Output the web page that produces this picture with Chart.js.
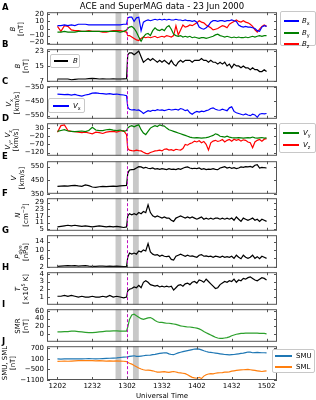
<!DOCTYPE html>
<html>
<head>
<meta charset="utf-8">
<script src="https://cdn.jsdelivr.net/npm/chart.js@4.4.0/dist/chart.umd.min.js"></script>
<style>
  html, body { margin: 0; padding: 0; background: #fff; }
  #wrap { position: relative; width: 316px; height: 400px; overflow: hidden; font-family: "DejaVu Sans", sans-serif; color: #000; }
  canvas { position: absolute; left: 0; }
  .title { position: absolute; left: 47px; width: 230px; top: 1px; text-align: center; font-size: 8.5px; line-height: 10px; white-space: nowrap; }
  .lbl { position: absolute; width: 60px; height: 16px; text-align: center; font-size: 7px; line-height: 8px; transform: rotate(-90deg); white-space: nowrap; }
  .let { position: absolute; left: 2px; font-weight: bold; font-size: 8.5px; line-height: 9px; }
  .leg { position: absolute; border: 1px solid #c8c8c8; border-radius: 2px; background: #fff; font-size: 7px; box-sizing: border-box; }
  .row { position: absolute; left: 0; height: 8px; line-height: 8px; white-space: nowrap; }
  .row .s { position: absolute; top: 3px; height: 1.5px; }
  .row .t { position: absolute; top: 0; }
  sub { font-size: 70%; vertical-align: -1.5px; line-height: 0; }
  sup { font-size: 70%; vertical-align: 3px; line-height: 0; }
</style>
</head>
<body>
<div id="wrap"></div>
<script>
// minutes after 12:00 UT
const times = [2, 5, 8, 11, 14, 17, 20, 23, 26, 29, 32, 35, 38, 41, 44, 47, 50, 53, 56, 59,
  61.5, 62.5,
  64, 66, 68, 70, 72, 74, 76, 78, 80, 82,
  84, 86, 88, 90, 92, 94, 96, 98, 100, 102,
  104, 106, 108, 110, 112, 114, 116, 118, 120, 122,
  124, 126, 128, 130, 132, 134, 136, 138, 140, 142,
  144, 146, 148, 150, 152, 154, 156, 158, 160, 162,
  164, 166, 168, 170, 172, 174, 176, 178, 180, 182];

const bx = [4, 4, 5, 4, 5, 4, 6, 6, 6, 5, 5, 5, 5, 5, 5, 5, 5, 5, 5, 6,
  6, 15,
  16, 16, 10, 15, 16, -3, 9, 11, 12, 11,
  12, 13, 12, 13, 12, 13, 12, 13, 12, 12,
  13, 12, 12, 11, 12, 11, 11, 10, 11, 9,
  2, 0, -1, 1, 4, 9, 11, 11, 10, 11,
  11, 10, 11, 11, 12, 11, 10, 5, 3, 2,
  3, 2, 2, 1, 0, -3, -4, 2, 4, 3];
const by = [-5, -5, -4, -5, -5, -5, -4, -4, -4, -4, -4, -4, -4, -4, -4, -4, -4, -4, -5, -4,
  -2, 0,
  2, 3, 0, -5, -12, -18, -12, -8, -7, -10,
  -3, 1, -2, -3, -1, -3, 2, 4, -1, -8,
  -10, -11, -10, -12, -11, -12, -11, -13, -12, -13,
  -14, -13, -13, -14, -13, -12, -11, -9, -8, -10,
  -11, -12, -11, -12, -13, -12, -13, -12, -13, -13,
  -12, -13, -12, -11, -12, -11, -10, -11, -10, -10];
const bz = [3, -4, 4, 3, -2, -3, -3, -4, -4, -3, -4, -4, -4, -5, -5, -4, -3, -3, -3, -4,
  -5, -10,
  -10, -12, -14, -16, -17, -14, -12, -13, -12, -13,
  -12, -11, -13, -12, -11, -12, -10, -11, -12, -10,
  4, -9, -2, 5, 2, 3, 5, 4, 6, 8,
  11, 9, 8, 5, 3, 1, -2, -1, 0, 2,
  4, 3, 1, 6, 8, 10, 12, 10, 9, 11,
  9, 8, 6, 3, -2, -5, -1, 3, 5, 3];
const bmag = [8, 8, 8, 8, 7.6, 7.8, 8, 8, 8, 8.2, 8.3, 8.2, 8, 8.1, 8, 8, 8.1, 8, 8, 8.1,
  8.2, 21,
  22, 22, 21, 22, 23, 20, 17, 18, 19, 18,
  19, 18, 17, 18, 17, 18, 17, 16, 18, 16,
  15, 17, 18, 17, 18, 18, 18, 17, 18, 18,
  18, 19, 18, 18, 17, 18, 17, 17, 16, 17,
  16, 17, 15, 16, 14, 16, 15, 15, 14, 15,
  14, 14, 13, 14, 13, 13, 12, 12, 13, 12];
const vx = [-398, -400, -402, -400, -405, -400, -408, -412, -405, -400, -392, -390, -393, -395, -398, -395, -400, -398, -402, -405,
  -410, -490,
  -505, -510, -508, -512, -510, -520, -535, -525, -515, -520,
  -512, -515, -508, -512, -510, -515, -510, -505, -510, -508,
  -505, -510, -500, -505, -515, -510, -530, -540, -528, -520,
  -525, -518, -522, -515, -510, -500, -495, -505, -510, -512,
  -505, -510, -515, -495, -488, -520, -530, -535, -540, -545,
  -538, -545, -550, -540, -545, -562, -540, -535, -538, -535];
const vy = [10, 15, 20, 12, 10, 8, 10, 12, 8, 15, 35, 18, 14, 15, 20, 22, 18, 15, 18, 10,
  15, 30,
  40, 45, 38, 45, 50, 20, 0, -10, 10, 30,
  38, 45, 40, 50, 45, 42, 30, 20, 15, 10,
  5, 0, -5, -10, -15, -20, -25, -28, -30, -28,
  -30, -32, -30, -28, -25, -20, -15, -5, -10, -20,
  -22, -25, -20, -25, -28, -30, -30, -28, -30, -32,
  -30, -28, -30, -25, -30, -32, -30, -28, -32, -30];
const vz = [5, 45, 50, 15, 10, 8, 5, 2, 5, 0, -5, 5, 2, -3, 5, 8, 10, 5, 12, 15,
  -10, -95,
  -105, -108, -110, -105, -108, -110, -118, -125, -128, -120,
  -115, -110, -108, -105, -110, -100, -98, -105, -102, -108,
  -100, -103, -105, -95, -70, -75, -65, -60, -50, -55,
  -48, -60, -52, -70, -105, -60, -50, -45, -52, -48,
  -40, -55, -45, -40, -50, -38, -45, -40, -50, -42,
  -45, -55, -60, -90, -55, -45, -40, -50, -38, -35];
const vmag = [405, 407, 408, 406, 410, 412, 408, 405, 415, 410, 400, 398, 402, 405, 403, 405, 407, 405, 408, 410,
  412, 500,
  525, 528, 530, 540, 550, 548, 540, 545, 538, 535,
  540, 532, 535, 530, 535, 532, 528, 535, 530, 532,
  528, 535, 530, 538, 545, 548, 540, 535, 538, 535,
  540, 530, 535, 528, 532, 530, 535, 530, 528, 540,
  545, 550, 540, 545, 538, 542, 535, 540, 548, 545,
  550, 548, 552, 545, 560, 565, 540, 545, 542, 540];
const dens = [7, 7.5, 8, 8.5, 8, 8.5, 8, 7.5, 8, 7.5, 7, 7.5, 8, 7.5, 7, 7.5, 7, 7.5, 7, 6.5,
  7, 17,
  19, 18, 19, 18, 20, 19, 21, 20, 27, 20,
  17, 16, 17, 16, 15, 16, 15, 15, 13, 12,
  15, 16, 17, 16, 15, 16, 15, 16, 15, 14,
  15, 16, 14, 15, 14, 15, 14, 15, 15, 14,
  15, 14, 15, 14, 15, 13, 16, 14, 12, 15,
  14, 13, 14, 15, 13, 14, 12, 14, 13, 12];
const pdyn = [2.2, 2.3, 2.4, 2.5, 2.4, 2.5, 2.3, 2.4, 2.5, 2.3, 2.2, 2.2, 2.3, 2.3, 2.2, 2.3, 2.2, 2.3, 2.2, 2.1,
  2.2, 6.5,
  8.5, 8, 8.5, 8, 9.5, 9, 10, 9.5, 13, 9,
  8, 7.5, 7.8, 7, 7.5, 7, 6.8, 7, 5.5, 5.2,
  7, 7.5, 8, 7.5, 7, 7.5, 7, 7.2, 6.8, 6.5,
  7.5, 7.8, 7, 7.2, 6.8, 7, 6.5, 7, 6.8, 6.5,
  7, 6.5, 6.8, 6.5, 7, 6, 7.5, 6.5, 5.8, 7.5,
  6.5, 6, 6.5, 7.5, 6, 6.8, 5.8, 7, 6.5, 6];
const temp = [1.1, 1.1, 1.2, 1.1, 1.2, 1.1, 1.0, 1.1, 1.0, 1.0, 1.1, 1.0, 1.0, 1.1, 1.0, 1.2, 1.0, 1.1, 1.0, 0.9,
  1.0, 1.8,
  2.0, 2.1, 2.3, 2.2, 2.5, 2.2, 2.9, 3.1, 2.9, 2.6,
  2.5, 2.4, 2.5, 2.3, 2.4, 2.3, 2.4, 2.3, 2.4, 1.9,
  2.2, 2.5, 2.6, 2.4, 2.7, 2.8, 2.6, 2.9, 3.0, 2.8,
  3.2, 3.1, 2.9, 3.3, 3.0, 2.7, 2.4, 2.1, 2.2, 2.6,
  2.8, 3.0, 2.9, 3.1, 3.0, 3.3, 2.9, 3.2, 3.1, 3.4,
  3.3, 3.5, 3.6, 3.4, 3.2, 3.1, 3.3, 3.5, 3.4, 3.2];
const smr = [5, 5, 6, 6, 7, 7, 6, 5, 4, 3, 3, 4, 5, 6, 7, 7, 8, 8, 7, 7,
  7, 18,
  38, 50, 52, 48, 44, 40, 38, 40, 42, 43,
  40, 35, 32, 30, 30, 29, 28, 28, 27, 26,
  25, 23, 21, 20, 19, 18, 18, 17, 16, 15,
  13, 10, 6, 3, 0, -3, -6, -9, -11, -12,
  -12, -11, -10, -8, -5, -3, -1, 0, 1, 1,
  2, 2, 2, 2, 2, 2, 1, 1, 1, 0];
const smu = [90, 85, 90, 95, 90, 100, 95, 90, 100, 105, 100, 95, 100, 110, 120, 130, 140, 150, 170, 190,
  200, 210,
  230, 250, 270, 240, 230, 250, 270, 290, 300, 310,
  330, 350, 380, 400, 420, 440, 430, 380, 340, 330,
  380, 430, 470, 500, 530, 560, 590, 620, 650, 660,
  640, 600, 550, 510, 480, 460, 440, 420, 400, 380,
  360, 340, 330, 320, 330, 340, 360, 380, 400, 420,
  450, 480, 470, 440, 450, 460, 450, 440, 440, 430];
const sml = [-50, -40, -30, -40, -30, -20, -10, 0, -10, 0, -10, -20, -10, -20, -30, -20, -30, -20, -30, -40,
  -60, -100,
  -150, -200, -280, -350, -420, -480, -520, -550, -540, -560,
  -580, -620, -650, -660, -640, -630, -650, -670, -640, -620,
  -650, -680, -700, -720, -740, -800, -880, -950, -980, -1000,
  -950, -1020, -880, -800, -760, -740, -750, -720, -700, -690,
  -680, -660, -650, -640, -600, -580, -560, -540, -530, -520,
  -510, -500, -520, -540, -560, -580, -600, -620, -600, -580];

const xTicks = [2, 32, 62, 92, 122, 152, 182];
const xTickLabels = ['1202', '1232', '1302', '1332', '1402', '1432', '1502'];
const bandStarts = [52, 67];
const bandEnds = [57, 72];
const shockTime = 62;

const ticksA = [-20, -10, 0, 10, 20];
const ticksB = [7, 15, 23];
const ticksC = [-550, -450, -350];
const ticksD = [-120, -70, -20, 30];
const ticksE = [350, 450, 550];
const ticksF = [5, 11, 17, 23, 29];
const ticksG = [2, 6, 10, 14];
const ticksH = [1, 2, 3, 4];
const ticksI = [0, 20, 40, 60];
const ticksJ = [-1100, -500, 100, 700];

// layout
const PLOT_LEFT = 47, PLOT_RIGHT = 277, PAD = 6, PANEL_H = 35;
const panelTops = [11, 48, 85, 122, 160, 197, 234, 271, 308, 345];

const panels = [
  { letter: 'A', min: -23, max: 23, ticks: ticksA, label: '<i>B</i><br>[nT]', lx: 17,
    series: [{ d: bx, c: '#0000ff' }, { d: by, c: '#008000' }, { d: bz, c: '#ff0000' }] },
  { letter: 'B', min: 6.5, max: 24, ticks: ticksB, label: '<i>B</i><br>[nT]', lx: 21.5,
    series: [{ d: bmag, c: '#000000' }] },
  { letter: 'C', min: -572, max: -343, ticks: ticksC, label: '<i>V</i><sub>x</sub><br>[km/s]', lx: 13,
    series: [{ d: vx, c: '#0000ff' }] },
  { letter: 'D', min: -140, max: 60, ticks: ticksD, label: '<i>V</i><sub>y</sub>, <i>V</i><sub>z</sub><br>[km/s]', lx: 12,
    series: [{ d: vy, c: '#008000' }, { d: vz, c: '#ff0000' }] },
  { letter: 'E', min: 350, max: 590, ticks: ticksE, label: '<i>V</i><br>[km/s]', lx: 18,
    series: [{ d: vmag, c: '#000000' }] },
  { letter: 'F', min: 3.5, max: 33, ticks: ticksF, label: '<i>N</i><br>[cm<sup>\u22123</sup>]', lx: 22,
    series: [{ d: dens, c: '#000000' }] },
  { letter: 'G', min: 1.5, max: 17, ticks: ticksG, label: '<i>P</i><sub><i>dyn</i></sub><br>[nPa]', lx: 22,
    series: [{ d: pdyn, c: '#000000' }] },
  { letter: 'H', min: 0, max: 4.2, ticks: ticksH, label: '<i>T</i><br>[\u00d710<sup>5</sup> K]', lx: 21.5,
    series: [{ d: temp, c: '#000000' }] },
  { letter: 'I', min: -21, max: 65, ticks: ticksI, label: 'SMR<br>[nT]', lx: 21.5,
    series: [{ d: smr, c: '#2ca02c' }] },
  { letter: 'J', min: -1100, max: 810, ticks: ticksJ, label: 'SMU, SML<br>[nT]', lx: 8.5,
    series: [{ d: smu, c: '#1f77b4' }, { d: sml, c: '#ff7f0e' }] }
];

const legends = [
  { left: 280, top: 11, w: 36, h: 35, rows: [
    { y: 5, c: '#0000ff', t: '<i>B</i><sub>x</sub>' },
    { y: 17, c: '#008000', t: '<i>B</i><sub>y</sub>' },
    { y: 28, c: '#ff0000', t: '<i>B</i><sub>z</sub>' }], sx: 3, sw: 15, tx: 21 },
  { left: 50, top: 54, w: 30, h: 14, rows: [{ y: 2, c: '#000', t: '<i>B</i>' }], sx: 3, sw: 14, tx: 22 },
  { left: 48, top: 98, w: 37, h: 15, rows: [{ y: 3, c: '#0000ff', t: '<i>V</i><sub>x</sub>' }], sx: 4, sw: 16, tx: 24 },
  { left: 279, top: 123, w: 37, h: 30, rows: [
    { y: 5, c: '#008000', t: '<i>V</i><sub>y</sub>' },
    { y: 17, c: '#ff0000', t: '<i>V</i><sub>z</sub>' }], sx: 3, sw: 16, tx: 23 },
  { left: 272, top: 349, w: 43, h: 24, rows: [
    { y: 2, c: '#1f77b4', t: 'SMU' },
    { y: 13, c: '#ff7f0e', t: 'SML' }], sx: 2, sw: 17, tx: 23 }
];

const wrap = document.getElementById('wrap');

const framePlugin = {
  id: 'frame',
  beforeDatasetsDraw(chart) {
    const { ctx, chartArea: a, scales: { x } } = chart;
    ctx.save();
    ctx.fillStyle = '#c8c8c8';
    bandStarts.forEach((s, i) => {
      const x0 = x.getPixelForValue(s), x1 = x.getPixelForValue(bandEnds[i]);
      ctx.fillRect(x0, a.top, x1 - x0, a.bottom - a.top);
    });
    ctx.restore();
  },
  afterDatasetsDraw(chart) {
    const { ctx, chartArea: a, scales: { x, y } } = chart;
    ctx.save();
    // shock line
    ctx.strokeStyle = '#c010c0';
    ctx.lineWidth = 1;
    ctx.setLineDash([3, 2]);
    const sx = Math.round(x.getPixelForValue(shockTime)) + 0.5;
    ctx.beginPath();
    ctx.moveTo(sx, a.top);
    ctx.lineTo(sx, a.bottom);
    ctx.stroke();
    ctx.setLineDash([]);
    // frame + inward ticks
    ctx.strokeStyle = '#555';
    ctx.strokeRect(a.left + 0.5, a.top + 0.5, a.right - a.left - 1, a.bottom - a.top - 1);
    ctx.beginPath();
    xTicks.forEach(v => {
      const p = Math.round(x.getPixelForValue(v)) + 0.5;
      ctx.moveTo(p, a.top); ctx.lineTo(p, a.top + 3);
      ctx.moveTo(p, a.bottom); ctx.lineTo(p, a.bottom - 3);
    });
    y.ticks.forEach(t => {
      const p = Math.round(y.getPixelForValue(t.value)) + 0.5;
      ctx.moveTo(a.left, p); ctx.lineTo(a.left + 3, p);
      ctx.moveTo(a.right, p); ctx.lineTo(a.right - 3, p);
    });
    ctx.stroke();
    ctx.restore();
  }
};

const tickFont = { size: 7, family: 'DejaVu Sans' };

panels.forEach((p, i) => {
  const last = i === panels.length - 1;
  const top = panelTops[i];
  const cTop = top - PAD;
  const cH = last ? 400 - cTop : PANEL_H + 2 * PAD;

  const cv = document.createElement('canvas');
  cv.width = 316;
  cv.height = cH;
  cv.style.top = cTop + 'px';
  cv.style.width = '316px';
  cv.style.height = cH + 'px';
  wrap.appendChild(cv);

  new Chart(cv, {
    type: 'line',
    data: {
      datasets: p.series.map(s => ({
        data: times.map((t, k) => ({ x: t, y: s.d[k] })),
        borderColor: s.c,
        borderWidth: 1.2,
        pointRadius: 0,
        fill: false,
        tension: 0
      }))
    },
    options: {
      responsive: false,
      animation: false,
      devicePixelRatio: 1,
      layout: { padding: { left: 0, right: 316 - PLOT_RIGHT, top: PAD, bottom: last ? 0 : PAD } },
      plugins: { legend: { display: false }, tooltip: { enabled: false } },
      scales: {
        x: {
          type: 'linear', min: -7, max: 191, display: last,
          grid: { display: false, drawTicks: false }, border: { display: false },
          afterBuildTicks: s => { s.ticks = xTicks.map(v => ({ value: v })); },
          afterFit: s => { s.height = last ? 20 : 0; },
          ticks: { autoSkip: false, maxRotation: 0, padding: 2, color: '#000', font: tickFont,
                   callback: (v, k) => xTickLabels[k] },
          title: { display: true, text: 'Universal Time', padding: 0, color: '#000',
                   font: { size: 7, family: 'DejaVu Sans', lineHeight: 1 } }
        },
        y: {
          min: p.min, max: p.max,
          grid: { display: false, drawTicks: false }, border: { display: false },
          afterBuildTicks: s => { s.ticks = p.ticks.map(v => ({ value: v })); },
          afterFit: s => { s.width = PLOT_LEFT; },
          ticks: { autoSkip: false, padding: 3, color: '#000', font: tickFont,
                   callback: v => String(v).replace('-', '\u2212') }
        }
      }
    },
    plugins: [framePlugin]
  });

  // y label
  const lb = document.createElement('div');
  lb.className = 'lbl';
  lb.innerHTML = p.label;
  lb.style.left = (p.lx - 30) + 'px';
  lb.style.top = (top + PANEL_H / 2 - 8) + 'px';
  wrap.appendChild(lb);

  // panel letter
  const lt = document.createElement('div');
  lt.className = 'let';
  lt.textContent = p.letter;
  lt.style.top = (top - 3.5 - 4.5) + 'px';
  wrap.appendChild(lt);
});

legends.forEach(l => {
  const box = document.createElement('div');
  box.className = 'leg';
  box.style.left = l.left + 'px';
  box.style.top = l.top + 'px';
  box.style.width = l.w + 'px';
  box.style.height = l.h + 'px';
  l.rows.forEach(r => {
    const row = document.createElement('div');
    row.className = 'row';
    row.style.top = r.y + 'px';
    row.innerHTML = '<span class="s" style="left:' + l.sx + 'px;width:' + l.sw + 'px;background:' + r.c + '"></span>' +
      '<span class="t" style="left:' + l.tx + 'px">' + r.t + '</span>';
    box.appendChild(row);
  });
  wrap.appendChild(box);
});

const title = document.createElement('div');
title.className = 'title';
title.textContent = 'ACE and SuperMAG data - 23 Jun 2000';
wrap.appendChild(title);
</script>
</body>
</html>
